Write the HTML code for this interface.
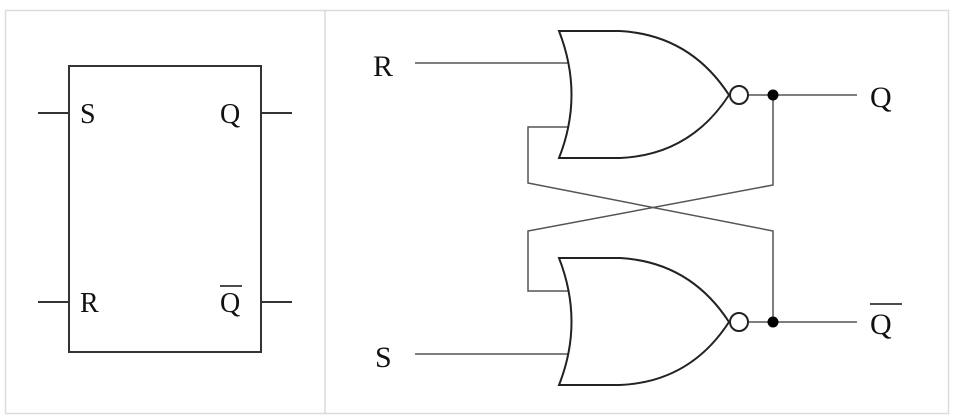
<!DOCTYPE html>
<html><head><style>body{margin:0;background:#fff}svg{display:block}</style></head><body>
<svg width="966" height="418" viewBox="0 0 966 418" xmlns="http://www.w3.org/2000/svg">
<rect x="5.5" y="10.5" width="943" height="403" fill="none" stroke="#dcdcdc" stroke-width="1.5"/>
<line x1="325" y1="10" x2="325" y2="414" stroke="#dcdcdc" stroke-width="1.5"/>
<g stroke="#333" stroke-width="2" fill="none">
<rect x="69" y="66" width="192" height="286"/>
<line x1="38" y1="113" x2="69" y2="113"/><line x1="261" y1="113" x2="292" y2="113"/>
<line x1="38" y1="302" x2="69" y2="302"/><line x1="261" y1="302" x2="292" y2="302"/>
</g>
<g font-family="Liberation Serif, serif" font-size="28" fill="#111">
<text x="80" y="123">S</text><text x="220" y="123">Q</text>
<text x="80" y="312">R</text><text x="220" y="312">Q</text>
<line x1="220" y1="286" x2="242" y2="286" stroke="#111" stroke-width="1.5"/>
<text x="373" y="76" font-size="30">R</text>
<text x="375" y="367" font-size="30">S</text>
<text x="870" y="107" font-size="30">Q</text>
<text x="870" y="334" font-size="30">Q</text>
<line x1="870" y1="304" x2="902" y2="304" stroke="#111" stroke-width="1.5"/>
</g>
<g stroke="#555" stroke-width="1.5" fill="none">
<line x1="415" y1="63" x2="569" y2="63"/>
<polyline points="569,127 528,127 528,183 773,231 773,322"/>
<polyline points="773,95 773,185 528,231 528,291 569,291"/>
<line x1="415" y1="354" x2="569" y2="354"/>
<line x1="748" y1="95" x2="857" y2="95"/>
<line x1="748" y1="322" x2="857" y2="322"/>
</g>
<g stroke="#222" stroke-width="2" fill="#fff">
<path d="M559,31 L620,31 Q690,35 729,95 Q690,155 620,158 L559,158 Q584,95 559,31 Z"/>
<path d="M559,258 L620,258 Q690,262 729,322 Q690,382 620,385 L559,385 Q584,322 559,258 Z"/>
<circle cx="739" cy="95" r="9"/><circle cx="739" cy="322" r="9"/>
</g>
<circle cx="773" cy="95" r="5.5" fill="#000"/><circle cx="773" cy="322" r="5.5" fill="#000"/>
</svg>
</body></html>
